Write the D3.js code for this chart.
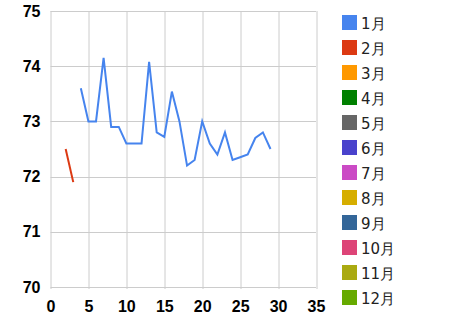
<!DOCTYPE html>
<html>
<head>
<meta charset="utf-8">
<script src="https://cdn.jsdelivr.net/npm/d3@7"></script>
<style>
  body { margin: 0; background: #fff; }
  svg { display: block; }
</style>
</head>
<body>
<div id="chart"></div>
<script>
// data
const months = ['1月', '2月', '3月', '4月', '5月', '6月', '7月', '8月', '9月', '10月', '11月', '12月'];
const colors = ['#4684ee', '#dc3912', '#ff9900', '#008000', '#666666', '#4942cc',
                '#cb4ac5', '#d6ae00', '#336699', '#dd4477', '#aaaa11', '#66aa00'];
const xTicks = [0, 5, 10, 15, 20, 25, 30, 35];
const yTicks = [70, 71, 72, 73, 74, 75];

const janX = [4, 5, 6, 7, 8, 9, 10, 11, 12, 13, 14, 15, 16, 17, 18, 19, 20, 21, 22, 23, 24, 25, 26, 27, 28, 29];
const janY = [73.6, 73.0, 73.0, 74.15, 72.9, 72.9, 72.6, 72.6, 72.6, 74.08, 72.8, 72.72, 73.54, 73.0, 72.2, 72.3,
              73.0, 72.6, 72.4, 72.8, 72.3, 72.35, 72.4, 72.7, 72.8, 72.5];
const febX = [2, 3];
const febY = [72.5, 71.9];

const series = [
  { name: months[0], xs: janX, ys: janY },
  { name: months[1], xs: febX, ys: febY }
];

const width = 450, height = 320;
const margin = { top: 11, right: 134, bottom: 33, left: 50.5 };
const w = width - margin.left - margin.right;
const h = height - margin.top - margin.bottom;

const svg = d3.select('#chart')
  .append('svg')
  .attr('width', width)
  .attr('height', height);

const g = svg.append('g')
  .attr('transform', `translate(${margin.left},${margin.top})`);

const x = d3.scaleLinear().domain([0, 35]).range([0, w]);
const y = d3.scaleLinear().domain([70, 75]).range([h, 0]);

// grid
g.append('g')
  .selectAll('line')
  .data(yTicks)
  .enter().append('line')
  .attr('x1', 0).attr('x2', w)
  .attr('y1', d => Math.round(y(d)) + 0.5)
  .attr('y2', d => Math.round(y(d)) + 0.5)
  .attr('stroke', '#cccccc');

g.append('g')
  .selectAll('line')
  .data(xTicks)
  .enter().append('line')
  .attr('y1', 0).attr('y2', h + 2)
  .attr('x1', d => Math.round(x(d)) + 0.5)
  .attr('x2', d => Math.round(x(d)) + 0.5)
  .attr('stroke', '#cccccc');

// axes labels
const xAxis = g.append('g')
  .attr('transform', `translate(0,${h})`)
  .call(d3.axisBottom(x).tickValues(xTicks).tickSize(0).tickPadding(10).tickFormat(d3.format('d')));
const yAxis = g.append('g')
  .call(d3.axisLeft(y).tickValues(yTicks).tickSize(0).tickPadding(10).tickFormat(d3.format('d')));

[xAxis, yAxis].forEach(a => {
  a.select('.domain').remove();
  a.selectAll('text')
    .attr('fill', '#000')
    .style('font-family', '"Liberation Sans", Arial, sans-serif')
    .style('font-size', '16px')
    .style('font-weight', 'bold');
});
xAxis.selectAll('text').attr('dy', '0.95em');

// lines
const line = d3.line()
  .x(d => x(d[0]))
  .y(d => y(d[1]));

series.forEach((s, i) => {
  g.append('path')
    .datum(s.xs.map((v, k) => [v, s.ys[k]]))
    .attr('fill', 'none')
    .attr('stroke', colors[i])
    .attr('stroke-width', 2)
    .attr('d', line);
});

// legend
const legend = svg.append('g')
  .attr('transform', 'translate(342,15)');

const item = legend.selectAll('g')
  .data(months)
  .enter().append('g')
  .attr('transform', (d, i) => `translate(0,${i * 25})`);

item.append('rect')
  .attr('width', 15)
  .attr('height', 15)
  .attr('fill', (d, i) => colors[i]);

item.append('text')
  .attr('x', 19)
  .attr('y', 14)
  .attr('fill', '#222')
  .style('font-family', '"DejaVu Sans", sans-serif')
  .style('font-size', '15px')
  .text(d => d);
</script>
</body>
</html>
